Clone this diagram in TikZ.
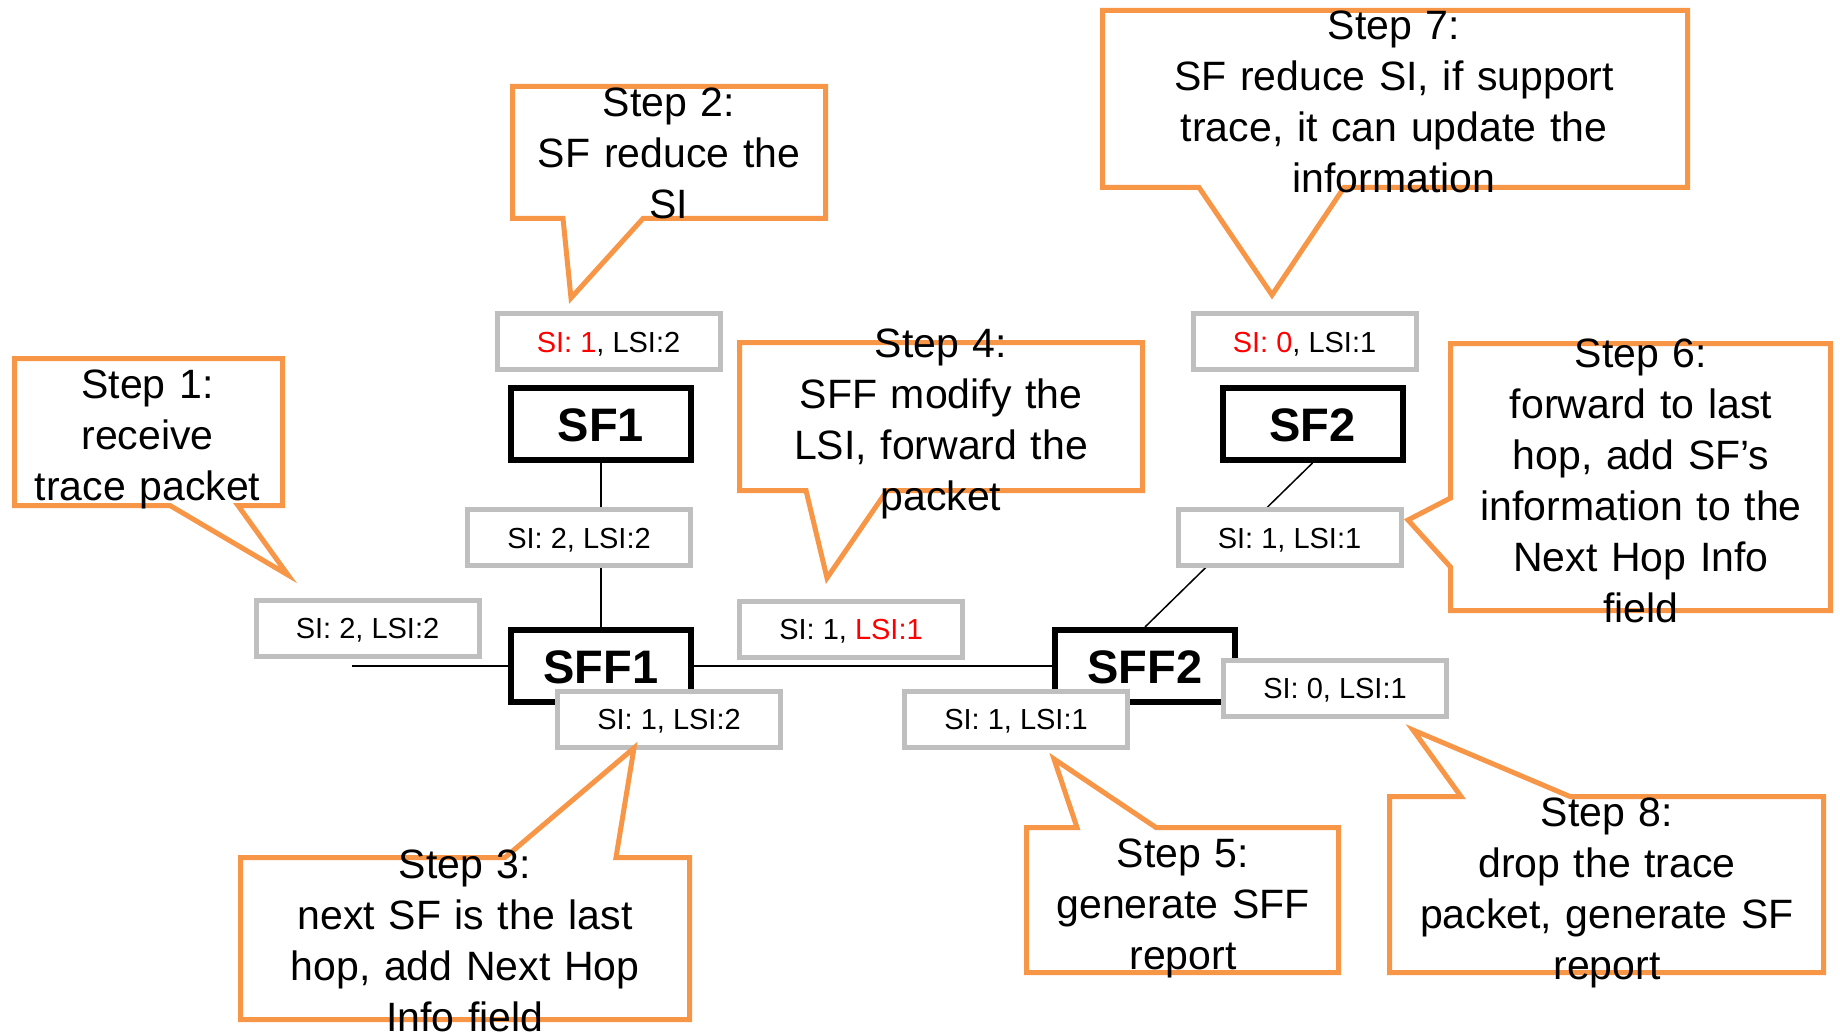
\documentclass[tikz,border=0pt]{standalone}
\usepackage{fontspec}
\setmainfont{Liberation Sans}
\usetikzlibrary{backgrounds}
\definecolor{corange}{HTML}{F79646}
\definecolor{cgray}{HTML}{BFBFBF}
\definecolor{cred}{HTML}{FF0000}
\begin{document}
\begin{tikzpicture}[x=1pt,y=-1pt,
  callout/.style={draw=corange, line width=5pt, line join=miter, fill=white},
  steptext/.style={anchor=base, align=center, text width=560pt, inner sep=0pt, font=\fontsize{41}{51}\selectfont},
  silabel/.style={draw=cgray, line width=5pt, fill=white, minimum width=223pt, minimum height=56pt, inner sep=0pt, text height=21pt, text depth=0pt, font=\fontsize{29}{34}\selectfont},
  funcbox/.style={draw=black, line width=6pt, fill=white, minimum width=180pt, minimum height=72pt, inner sep=0pt, text height=34pt, text depth=0pt, font=\fontsize{47}{56}\selectfont\bfseries},
  link/.style={draw=black, line width=1.5pt}]
\useasboundingbox (0,0) rectangle (1840,1035);

% function boxes
\node[funcbox] (sf1)  at (601,424) {SF1};
\node[funcbox] (sff1) at (601,666) {SFF1};
\node[funcbox] (sf2)  at (1312.5,424) {SF2};
\node[funcbox] (sff2) at (1145,666) {SFF2};
\coordinate (ingress) at (352,666);

% connectors
\begin{scope}[on background layer]
\draw[link] (sf1.south) -- (sff1.north);
\draw[link] (sf2.south) -- (sff2.north);
\draw[link] (sff1.east) -- (sff2.west);
\draw[link] (ingress) -- (sff1.west);
\end{scope}

% SI / LSI labels
\node[silabel] (lsf1in)   at (608.5,341.5) {\textcolor{cred}{SI: 1}, LSI:2};
\node[silabel] (lsf1out)  at (579,537.5)   {SI: 2, LSI:2};
\node[silabel] (lin)      at (367.5,628)   {SI: 2, LSI:2};
\node[silabel] (lsff1out) at (669,719)     {SI: 1, LSI:2};
\node[silabel] (llink)    at (851,629)     {SI: 1, \textcolor{cred}{LSI:1}};
\node[silabel] (lsff2in)  at (1016,719)    {SI: 1, LSI:1};
\node[silabel] (lsf2out)  at (1289.5,537.5) {SI: 1, LSI:1};
\node[silabel] (lsf2in)   at (1304.5,341.5) {\textcolor{cred}{SI: 0}, LSI:1};
\node[silabel] (lsff2out) at (1335,688)    {SI: 0, LSI:1};

% callout shapes
\coordinate (tip1) at (288,575);
\draw[callout] (14.5,358.5) -- (282.5,358.5) -- (282.5,505.5) -- (238,505.5) -- (tip1) -- (170,505.5) -- (14.5,505.5) -- cycle;
\coordinate (tip2) at (571,298);
\draw[callout] (512.5,86.5) -- (825.5,86.5) -- (825.5,218.5) -- (643,218.5) -- (tip2) -- (563,218.5) -- (512.5,218.5) -- cycle;
\coordinate (tip3) at (634,748);
\draw[callout] (240.5,857.5) -- (505,857.5) -- (tip3) -- (616,857.5) -- (689.5,857.5) -- (689.5,1019.5) -- (240.5,1019.5) -- cycle;
\coordinate (tip4) at (827,578);
\draw[callout] (739.5,342.5) -- (1142.5,342.5) -- (1142.5,490.5) -- (887,490.5) -- (tip4) -- (806,490.5) -- (739.5,490.5) -- cycle;
\coordinate (tip5) at (1054,759);
\draw[callout] (1026.5,827.5) -- (1077,827.5) -- (tip5) -- (1156,827.5) -- (1338.5,827.5) -- (1338.5,972.5) -- (1026.5,972.5) -- cycle;
\coordinate (tip6) at (1408,520);
\draw[callout] (1450.5,343.5) -- (1830.5,343.5) -- (1830.5,610.5) -- (1450.5,610.5) -- (1450.5,567) -- (tip6) -- (1450.5,498) -- cycle;
\coordinate (tip7) at (1272,295);
\draw[callout] (1102.5,10.5) -- (1687.5,10.5) -- (1687.5,187.5) -- (1344,187.5) -- (tip7) -- (1199,187.5) -- (1102.5,187.5) -- cycle;
\coordinate (tip8) at (1413,730);
\draw[callout] (1389.5,796.5) -- (1461,796.5) -- (tip8) -- (1570,796.5) -- (1823.5,796.5) -- (1823.5,972.5) -- (1389.5,972.5) -- cycle;

% callout texts
\node[steptext] (s1) at (147.5,398) {Step 1:\\receive\\trace packet};
\node[steptext] (s2) at (669,117) {Step 2:\\SF reduce the\\SI};
\node[steptext] (s3) at (465,878) {Step 3:\\next SF is the last\\hop, add Next Hop\\Info field};
\node[steptext] (s4) at (941,357) {Step 4:\\SFF modify the\\LSI, forward the\\packet};
\node[steptext] (s5) at (1183,867) {Step 5:\\generate SFF\\report};
\node[steptext] (s6) at (1641,367) {Step 6:\\forward to last\\hop, add SF’s\\information to the\\Next Hop Info\\field};
\node[steptext] (s7) at (1394,40) {Step 7:\\SF reduce SI, if support\\trace, it can update the\\information};
\node[steptext] (s8) at (1607,826) {Step 8:\\drop the trace\\packet, generate SF\\report};
\end{tikzpicture}
\end{document}
